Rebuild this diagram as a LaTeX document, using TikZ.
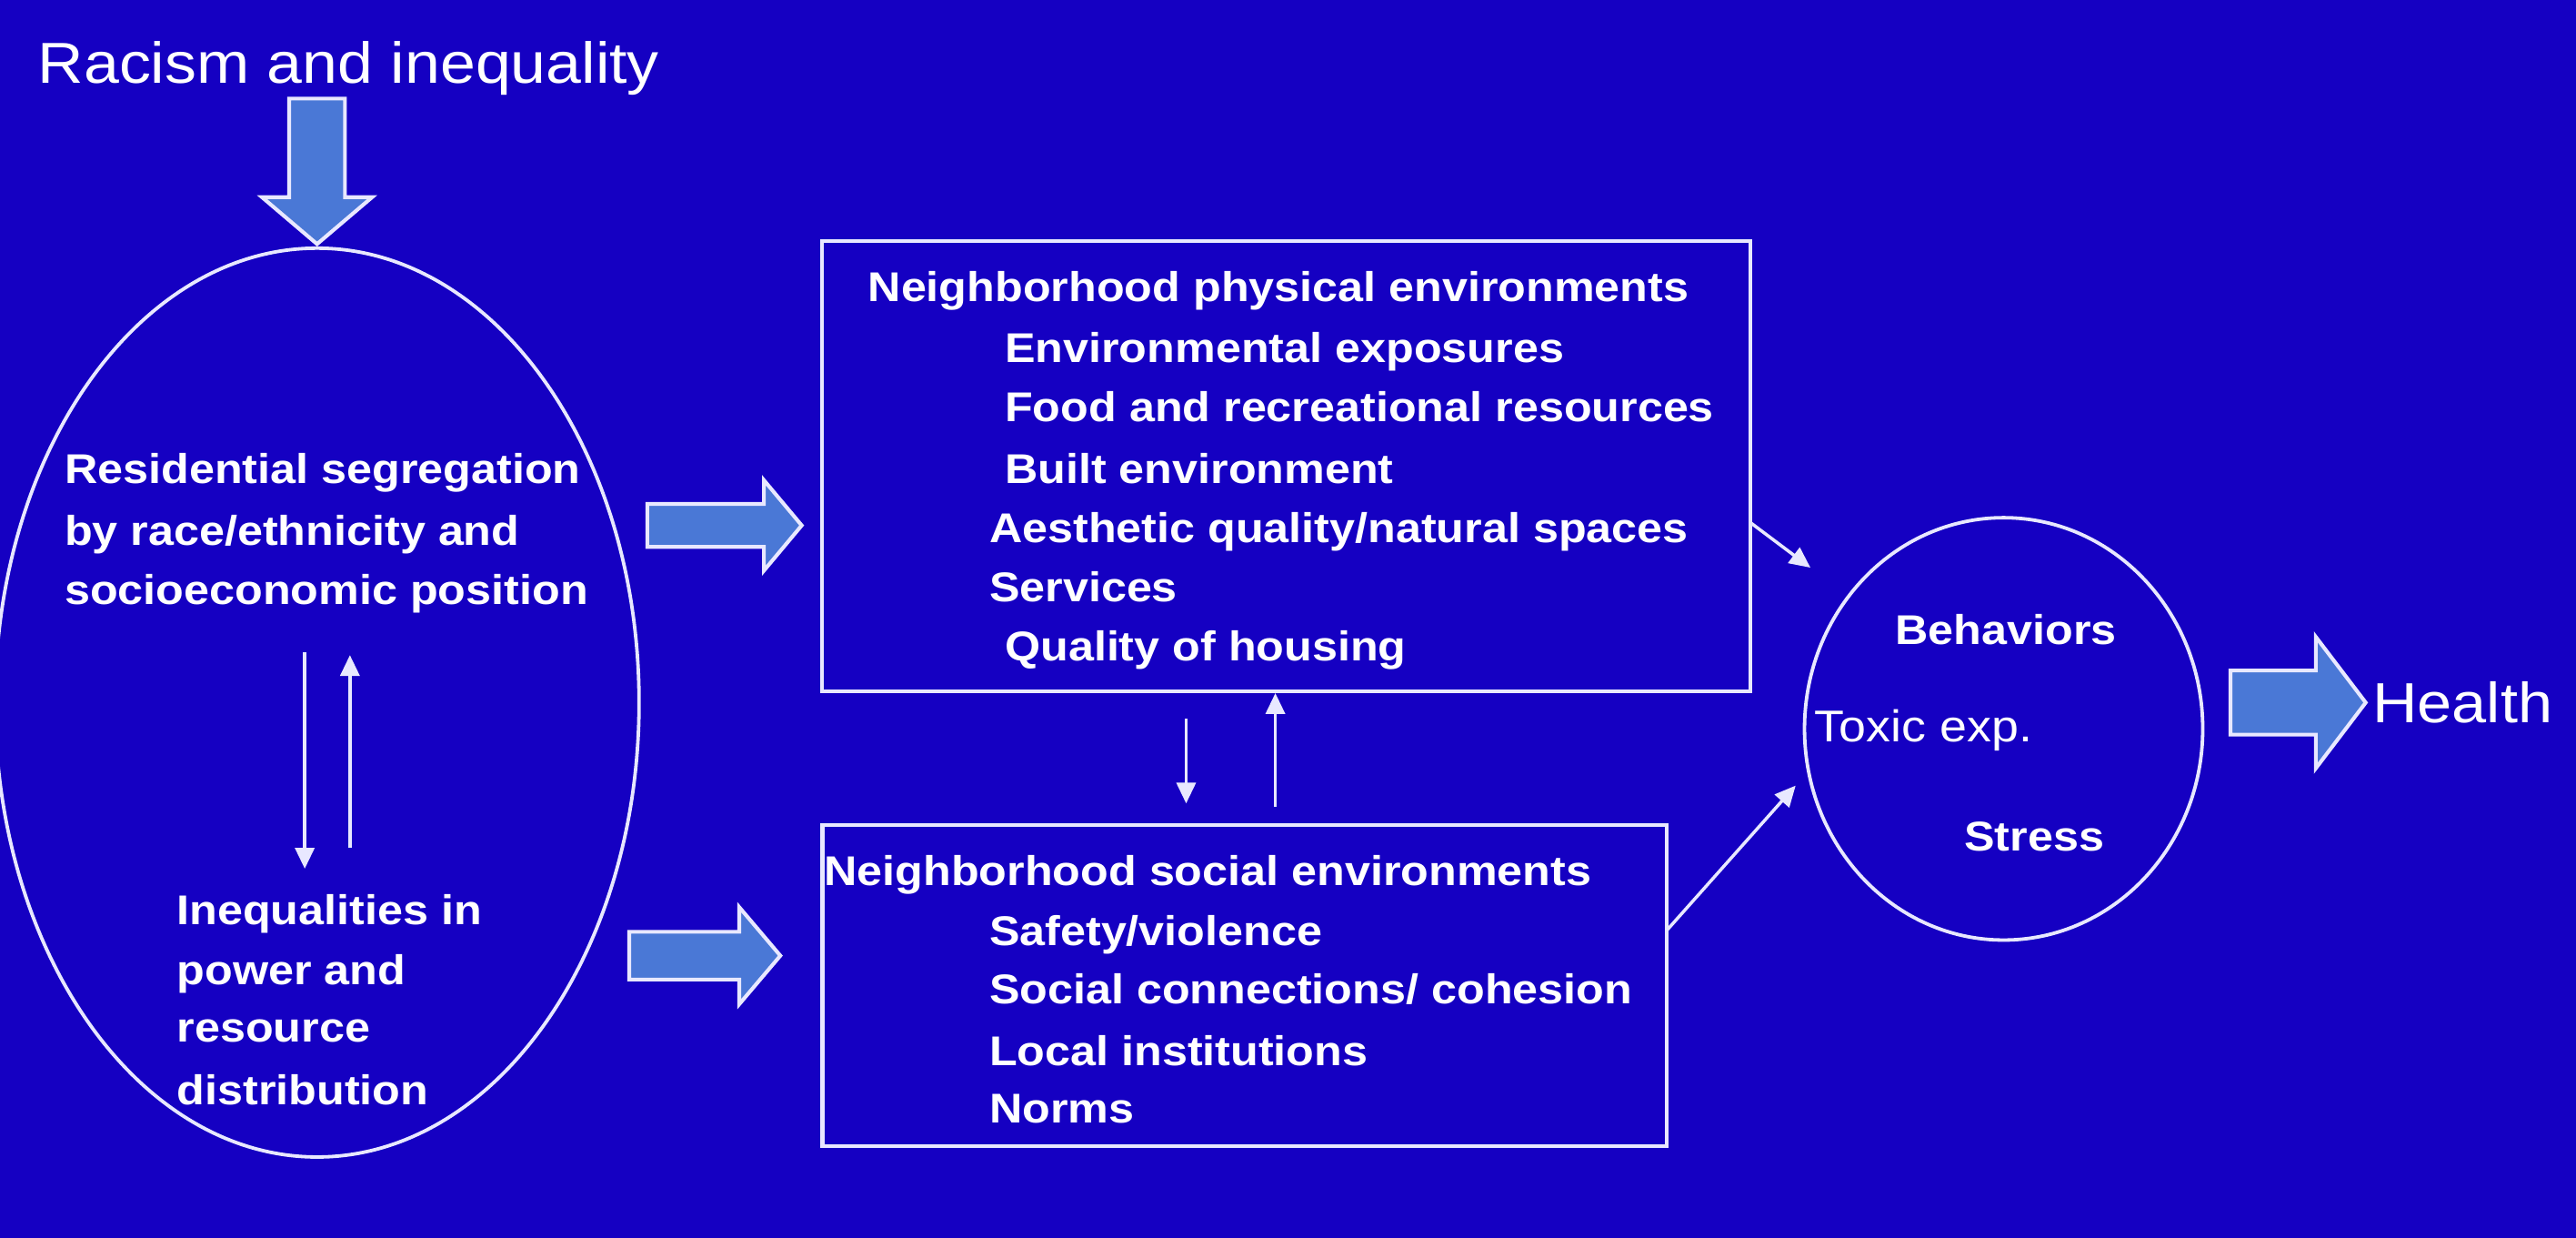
\documentclass[tikz,border=0pt]{standalone}
\usepackage{fontspec}
\setmainfont{Liberation Sans}[FakeStretch=1.1]
\usetikzlibrary{shapes.geometric, arrows.meta}
\definecolor{bgblue}{RGB}{21,0,194}
\definecolor{lineC}{RGB}{232,232,255}
\definecolor{arrowfill}{RGB}{74,120,214}
\begin{document}
\begin{tikzpicture}[x=0.1mm,y=-0.1mm,
  lbl/.style={anchor=base west, inner sep=0pt, text=white, font=\bfseries\fontsize{7.2}{8}\selectfont},
  lblreg/.style={anchor=base west, inner sep=0pt, text=white, font=\fontsize{7.7}{9}\selectfont},
  big/.style={anchor=base west, inner sep=0pt, text=white, font=\fontsize{10}{12}\selectfont},
  frame/.style={draw=lineC, line width=0.65pt, rectangle, inner sep=0pt},
  oval/.style={draw=lineC, line width=0.6pt, ellipse, inner sep=0pt},
  thin/.style={draw=lineC, line width=0.55pt, -{Triangle[length=3.6pt,width=3.3pt]}},
  blockarrow/.style={fill=arrowfill, draw=lineC, line width=0.65pt, line join=miter}
]
\useasboundingbox (0,0) rectangle (1568,753);
\fill[bgblue] (-10,-10) rectangle (1580,765);

% main shapes
\node[oval, minimum width=39.2mm, minimum height=55.3mm] (seg) at (193,427.5) {};
\node[frame, minimum width=56.49mm, minimum height=27.39mm] (phys) at (783,283.65) {};
\node[frame, minimum width=51.37mm, minimum height=19.56mm] (soc) at (757.45,599.6) {};
\node[oval, minimum width=24.24mm, minimum height=25.7mm] (path) at (1219.6,443.5) {};

% titles
\node[big] (racism) at (22.4,50.7) {Racism and inequality};
\node[big, font=\fontsize{9.8}{12}\selectfont] (health) at (1443.5,440) {Health};

% ellipse texts
\node[lbl] (s1) at (38.7,294) {Residential segregation};
\node[lbl] (s2) at (38.7,332) {by race/ethnicity and};
\node[lbl] (s3) at (38.7,367.6) {socioeconomic position};
\node[lbl] (i1) at (107,562.5) {Inequalities in};
\node[lbl] (i2) at (107,599) {power and};
\node[lbl] (i3) at (107,634) {resource};
\node[lbl] (i4) at (107,672.4) {distribution};

% physical box texts
\node[lbl] (p0) at (527.7,183.6) {Neighborhood physical environments};
\node[lbl] (p1) at (611,220.5) {Environmental exposures};
\node[lbl] (p2) at (611,256.4) {Food and recreational resources};
\node[lbl] (p3) at (611,294.3) {Built environment};
\node[lbl] (p4) at (601.5,330.2) {Aesthetic quality/natural spaces};
\node[lbl] (p5) at (601.5,366.2) {Services};
\node[lbl] (p6) at (611,402.2) {Quality of housing};

% social box texts
\node[lbl] (q0) at (501,538.7) {Neighborhood social environments};
\node[lbl] (q1) at (601.5,575.6) {Safety/violence};
\node[lbl] (q2) at (601.5,610.7) {Social connections/ cohesion};
\node[lbl] (q3) at (601.5,648.5) {Local institutions};
\node[lbl] (q4) at (601.5,683.5) {Norms};

% pathway texts
\node[lbl] (b1) at (1153,392) {Behaviors};
\node[lblreg] (b2) at (1104,451.5) {Toxic exp.};
\node[lbl] (b3) at (1195,518) {Stress};

% thin connectors
\coordinate (dA) at (185.5,397);
\coordinate (dB) at (185.5,528.6);
\coordinate (uA) at (213,516);
\coordinate (uB) at (213,398.6);
\draw[thin] (dA) -- (dB);
\draw[thin] (uA) -- (uB);

\coordinate (bdA) at (722,437.2);
\coordinate (bdB) at (722,488.9);
\coordinate (buA) at (776.3,490.7);
\draw[thin] (bdA) -- (bdB);
\draw[thin] (buA) -- (buA |- phys.south);

\coordinate (pe) at (1065.5,318);
\coordinate (pt) at (1102,345.4);
\draw[thin] (pe) -- (pt);
\coordinate (se) at (1014.3,566.4);
\coordinate (st) at (1093,478);
\draw[thin] (se) -- (st);

% block arrows
\draw[blockarrow] (176,60) -- (210,60) -- (210,120) -- (226.5,120) -- (193,148.5) -- (159.5,120) -- (176,120) -- cycle;
\draw[blockarrow] (394,306.6) -- (465,306.6) -- (465,292.2) -- (488,319.7) -- (465,347.2) -- (465,332.8) -- (394,332.8) -- cycle;
\draw[blockarrow] (383,567) -- (450,567) -- (450,552) -- (475,581.5) -- (450,611) -- (450,596) -- (383,596) -- cycle;
\draw[blockarrow] (1357.7,408) -- (1409.6,408) -- (1409.6,387.5) -- (1440,427.5) -- (1409.6,467.5) -- (1409.6,447) -- (1357.7,447) -- cycle;
\end{tikzpicture}
\end{document}
